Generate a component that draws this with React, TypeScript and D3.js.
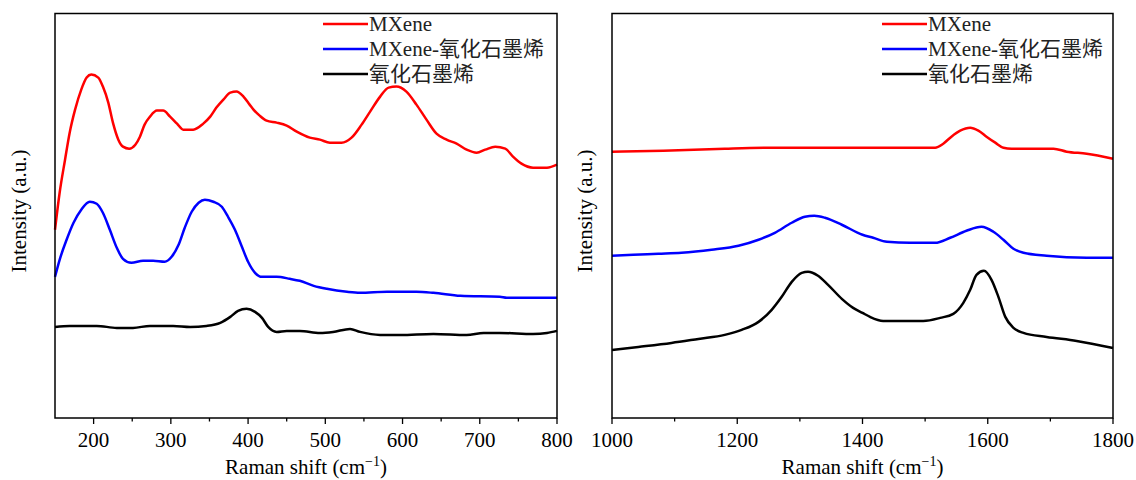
import * as d3 from 'd3';

// left panel (low wavenumber), arbitrary units
const mxeneLow: [number, number][] = [
  [150, 188], [156, 225], [163, 258], [169, 285], [176, 308], [184, 328], [191, 340], [197, 343],
  [206, 340], [212, 331], [219, 315], [225, 295], [232, 278], [238, 271], [246, 269], [254, 273],
  [260, 281], [266, 293], [273, 301], [282, 307], [290, 307], [299, 301], [308, 294], [316, 288],
  [329, 288], [342, 294], [351, 301], [359, 310], [368, 318], [377, 325], [385, 326], [394, 321],
  [402, 313], [407, 308], [415, 302], [424, 297], [437, 295], [450, 292], [463, 286], [480, 280],
  [493, 278], [506, 275], [521, 275], [534, 280], [547, 293], [558, 306], [571, 321], [582, 330],
  [592, 331], [605, 326], [618, 313], [631, 298], [644, 284], [657, 278], [670, 274], [683, 268],
  [696, 265], [707, 268], [720, 271], [733, 269], [743, 261], [754, 254], [769, 250], [787, 250],
  [800, 253],
];
const compositeLow: [number, number][] = [
  [150, 141], [156, 158], [165, 178], [174, 195], [184, 208], [195, 216], [204, 214], [212, 205],
  [221, 188], [230, 170], [238, 159], [249, 155], [264, 157], [277, 157], [292, 156], [301, 161],
  [310, 173], [318, 190], [327, 206], [336, 215], [344, 218], [355, 216], [366, 211], [374, 201],
  [383, 188], [392, 171], [400, 156], [409, 145], [418, 141], [437, 141], [454, 139], [467, 137],
  [485, 132], [502, 129], [528, 126], [545, 125], [580, 126], [618, 126], [640, 125], [675, 122],
  [726, 121], [735, 120], [800, 120],
];
const goLow: [number, number][] = [
  [150, 91], [169, 92], [204, 92], [230, 90], [251, 90], [273, 92], [303, 92], [325, 91],
  [346, 92], [364, 95], [377, 101], [387, 107], [398, 109], [409, 106], [418, 100], [426, 91],
  [437, 86], [450, 87], [467, 87], [493, 85], [510, 86], [532, 89], [545, 86], [571, 83],
  [597, 83], [640, 84], [683, 83], [705, 85], [726, 85], [769, 84], [787, 85], [800, 87],
];

// right panel (D / G band region)
const mxeneHigh: [number, number][] = [
  [1000, 266], [1082, 267], [1180, 269], [1265, 270], [1400, 270], [1516, 270], [1529, 274],
  [1542, 281], [1556, 287], [1572, 290], [1585, 287], [1598, 281], [1612, 275], [1625, 270],
  [1638, 269], [1705, 269], [1726, 266], [1758, 264], [1800, 259],
];
const compositeHigh: [number, number][] = [
  [1000, 162], [1034, 163], [1074, 164], [1111, 165], [1159, 168], [1202, 172], [1234, 178],
  [1260, 185], [1287, 195], [1308, 201], [1323, 202], [1340, 200], [1367, 193], [1400, 183],
  [1417, 180], [1439, 176], [1476, 175], [1516, 175], [1540, 180], [1566, 187], [1590, 191],
  [1609, 186], [1625, 178], [1641, 169], [1657, 165], [1694, 162], [1758, 160], [1800, 160],
];
const goHigh: [number, number][] = [
  [1000, 68], [1042, 71], [1095, 75], [1138, 79], [1180, 83], [1207, 88], [1234, 96], [1255, 108],
  [1271, 121], [1287, 136], [1303, 145], [1313, 146], [1329, 142], [1345, 133], [1367, 119],
  [1385, 110], [1400, 105], [1412, 101], [1433, 97], [1497, 97], [1524, 100], [1545, 104],
  [1561, 115], [1572, 128], [1582, 143], [1594, 147], [1606, 138], [1617, 121], [1628, 101],
  [1641, 90], [1657, 85], [1694, 81], [1742, 77], [1800, 70],
];

const seriesNames = ['MXene', 'MXene-氧化石墨烯', '氧化石墨烯'];
const seriesColors = ['#ff0000', '#0000ff', '#000000'];

const lowTicks = [200, 300, 400, 500, 600, 700, 800];
const lowMinor = [250, 350, 450, 550, 650, 750];
const highTicks = [1000, 1200, 1400, 1600, 1800];
const highMinor = [1100, 1300, 1500, 1700];

const FONT = "'Liberation Serif', 'DejaVu Serif', 'Noto Sans CJK SC', serif";

type PanelProps = {
  x0: number; x1: number;
  domain: [number, number];
  ticks: number[]; minor: number[];
  series: [number, number][][];
  legendX: number;
  labelX: number;
};

function Panel({ x0, x1, domain, ticks, minor, series, legendX, labelX }: PanelProps) {
  const top = 13.5, bottom = 418;
  const x = d3.scaleLinear().domain(domain).range([x0, x1]);
  const y = d3.scaleLinear().domain([0, 404]).range([bottom, top]);
  const line = d3.line<[number, number]>()
    .x(d => x(d[0])).y(d => y(d[1]))
    .curve(d3.curveMonotoneX);
  const mid = (x0 + x1) / 2;
  const txt = { fontFamily: FONT, fontSize: '21px' };

  return (
    <g>
      {series.map((s, i) => (
        <path key={i} d={line(s) || ''} fill="none" stroke={seriesColors[i]} strokeWidth={2.5} strokeLinejoin="round" />
      ))}
      <rect x={x0} y={top} width={x1 - x0} height={bottom - top} fill="none" stroke="#000" strokeWidth={1.5} />
      {ticks.map(t => (
        <g key={t}>
          <line x1={x(t)} x2={x(t)} y1={bottom} y2={bottom + 6} stroke="#000" strokeWidth={1.3} />
          <text x={x(t)} y={447} textAnchor="middle" style={txt} fill="#000">{t}</text>
        </g>
      ))}
      {minor.map(t => (
        <line key={t} x1={x(t)} x2={x(t)} y1={bottom} y2={bottom + 3.5} stroke="#000" strokeWidth={1.3} />
      ))}
      <text x={mid} y={474} textAnchor="middle" style={txt} fill="#000">
        Raman shift (cm<tspan style={{ fontSize: '14px' }} dy={-8}>−1</tspan><tspan dy={8}>)</tspan>
      </text>
      <text transform={`translate(${labelX},211) rotate(-90)`} textAnchor="middle" style={txt} fill="#000">
        Intensity (a.u.)
      </text>
      {seriesNames.map((n, i) => (
        <g key={n}>
          <line x1={legendX} x2={legendX + 45} y1={24 + i * 25} y2={24 + i * 25} stroke={seriesColors[i]} strokeWidth={2.5} />
          <text x={legendX + 46} y={31 + i * 25} style={txt} fill="#222">{n}</text>
        </g>
      ))}
    </g>
  );
}

export default function App() {
  return (
    <svg width={1136} height={480} style={{ position: 'absolute', left: 0, top: 0, background: '#fff' }}>
      <Panel x0={55} x1={557} domain={[150, 800]} ticks={lowTicks} minor={lowMinor}
        series={[mxeneLow, compositeLow, goLow]} legendX={323} labelX={26} />
      <Panel x0={612} x1={1113} domain={[1000, 1800]} ticks={highTicks} minor={highMinor}
        series={[mxeneHigh, compositeHigh, goHigh]} legendX={882} labelX={592} />
    </svg>
  );
}
